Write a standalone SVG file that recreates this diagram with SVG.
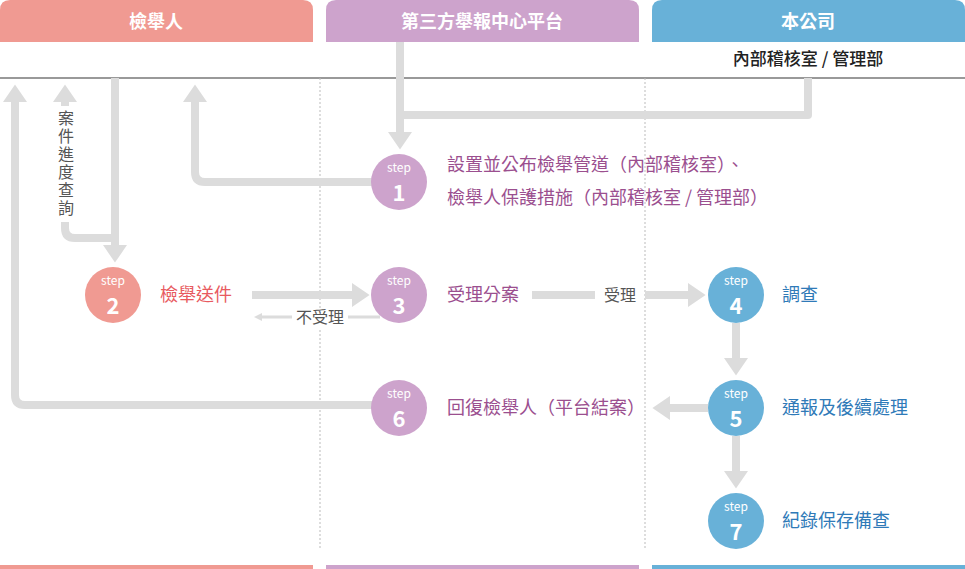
<svg xmlns="http://www.w3.org/2000/svg" width="965" height="569" viewBox="0 0 965 569">
<style>
text{font-family:"Noto Sans CJK TC","Noto Sans",sans-serif}
.h{fill:#fff;font-size:18px;font-weight:bold;text-anchor:middle}
.c{fill:none;stroke:#dcdcdc;stroke-width:8;stroke-linejoin:round}
.s{fill:#fff;font-size:12px;text-anchor:middle}
.n{fill:#fff;font-size:22px;font-weight:bold;text-anchor:middle}
.lp{fill:#9b4f8f;font-size:18px}
.lb{fill:#2f7ab8;font-size:18px}
.g{fill:#555;font-size:16px}
</style>
<defs>
<marker id="a" markerWidth="3" markerHeight="3" refX="1" refY="1.5" orient="auto" markerUnits="strokeWidth"><path d="M0,0L2.2,1.5L0,3Z" fill="#dcdcdc"/></marker>
<marker id="t" markerWidth="8" markerHeight="8" refX="4" refY="4" orient="auto" markerUnits="userSpaceOnUse"><path d="M0,0L8,4L0,8Z" fill="#dcdcdc"/></marker>
</defs>
<rect width="965" height="569" fill="#fff"/>
<g id="lanes">
<path d="M0,42V10Q0,0 10,0H303Q313,0 313,10V42Z" fill="#f09a92"/>
<path d="M326,42V10Q326,0 336,0H629Q639,0 639,10V42Z" fill="#cda3cc"/>
<path d="M652,42V10Q652,0 662,0H955Q965,0 965,10V42Z" fill="#68b1d8"/>
<text class="h" x="156" y="28">檢舉人</text>
<text class="h" x="482" y="28">第三方舉報中心平台</text>
<text class="h" x="808" y="28">本公司</text>
<text x="808" y="65" font-size="17" font-weight="500" fill="#222" text-anchor="middle">內部稽核室 / 管理部</text>
<line x1="0" y1="78" x2="965" y2="78" stroke="#777" stroke-width="1.5"/>
<line x1="320" y1="78" x2="320" y2="550" stroke="#bbb" stroke-dasharray="2,2"/>
<line x1="645" y1="78" x2="645" y2="550" stroke="#bbb" stroke-dasharray="2,2"/>
<rect x="0" y="565" width="313" height="4" fill="#f09a92"/>
<rect x="326" y="565" width="313" height="4" fill="#cda3cc"/>
<rect x="652" y="565" width="313" height="4" fill="#68b1d8"/>
</g>
<g id="connectors">
<path class="c" d="M400,42V140" marker-end="url(#a)"/>
<path class="c" d="M808,78V115H400"/>
<path class="c" d="M372,182H205Q195,182 195,172V94" marker-end="url(#a)"/>
<path class="c" d="M372,405H25Q15,405 15,395V94" marker-end="url(#a)"/>
<path class="c" d="M115,78V253" marker-end="url(#a)"/>
<path class="c" d="M115,238H75Q65,238 65,228V94" marker-end="url(#a)"/>
<path class="c" d="M252,295H360" marker-end="url(#a)"/>
<path class="c" d="M532,295H595M645,295H696" marker-end="url(#a)"/>
<path class="c" d="M736,323V366" marker-end="url(#a)"/>
<path class="c" d="M736,436V479" marker-end="url(#a)"/>
<path class="c" d="M708,408H662" marker-end="url(#a)"/>
<path d="M380,317H258" stroke="#dcdcdc" stroke-width="3" fill="none" marker-end="url(#t)"/>
<rect x="57" y="106" width="18" height="116" fill="#fff"/>
<text class="g" x="66" y="110" writing-mode="tb" letter-spacing="2">案件進度查詢</text>
<rect x="292" y="308" width="56" height="20" fill="#fff"/>
<text class="g" x="320" y="323" text-anchor="middle">不受理</text>
<text class="g" x="620" y="301" text-anchor="middle">受理</text>
</g>
<g id="step1"><circle cx="399" cy="182" r="28" fill="#cda3cc"/><text class="s" x="399" y="172">step</text><text class="n" x="399" y="201">1</text>
<text class="lp" x="447" y="171">設置並公布檢舉管道（內部稽核室）、</text><text class="lp" x="447" y="204">檢舉人保護措施（內部稽核室 / 管理部）</text></g>
<g id="step2"><circle cx="113" cy="295" r="28" fill="#f09a92"/><text class="s" x="113" y="285">step</text><text class="n" x="113" y="314">2</text><text x="160" y="301" font-size="18" fill="#e85a60">檢舉送件</text></g>
<g id="step3"><circle cx="399" cy="295" r="28" fill="#cda3cc"/><text class="s" x="399" y="285">step</text><text class="n" x="399" y="314">3</text><text class="lp" x="447" y="301">受理分案</text></g>
<g id="step4"><circle cx="736" cy="295" r="28" fill="#68b1d8"/><text class="s" x="736" y="285">step</text><text class="n" x="736" y="314">4</text><text class="lb" x="782" y="301">調查</text></g>
<g id="step5"><circle cx="736" cy="408" r="28" fill="#68b1d8"/><text class="s" x="736" y="398">step</text><text class="n" x="736" y="427">5</text><text class="lb" x="782" y="414">通報及後續處理</text></g>
<g id="step6"><circle cx="399" cy="408" r="28" fill="#cda3cc"/><text class="s" x="399" y="398">step</text><text class="n" x="399" y="427">6</text><text class="lp" x="447" y="414">回復檢舉人（平台結案）</text></g>
<g id="step7"><circle cx="736" cy="521" r="28" fill="#68b1d8"/><text class="s" x="736" y="511">step</text><text class="n" x="736" y="540">7</text><text class="lb" x="782" y="527">紀錄保存備查</text></g>
</svg>
